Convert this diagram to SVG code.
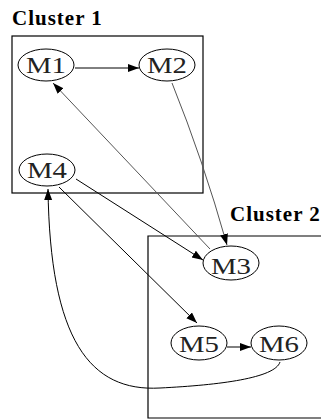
<svg xmlns="http://www.w3.org/2000/svg" width="321" height="420" viewBox="0 0 321 420">
<style>
.cl{fill:none;stroke:#000;stroke-width:1.2}
.ct{font-family:"Liberation Serif","Times New Roman",serif;font-weight:bold;font-size:21px;letter-spacing:1px;fill:#000}
.nd{fill:#fff;stroke:#000;stroke-width:1}
.nt{font-family:"Liberation Serif","Times New Roman",serif;font-size:24px;fill:#222;text-anchor:middle}
.e{fill:none;stroke:#000;stroke-width:1}
.g{stroke:#555}
</style>
<defs>
<marker id="ah" markerUnits="userSpaceOnUse" markerWidth="12" markerHeight="10" refX="11" refY="4" orient="auto">
<path d="M0,0 L11,4 L0,8 Z" fill="#000"/>
</marker>
</defs>
<rect x="0" y="0" width="321" height="420" fill="#fff"/>
<g id="cluster1">
<rect class="cl" x="12" y="36" width="191" height="157"/>
<text class="ct" x="12" y="25">Cluster 1</text>
</g>
<g id="cluster2">
<path class="cl" d="M321,236 L148,236 L148,418 L321,418"/>
<text class="ct" x="230" y="221">Cluster 2</text>
</g>
<g id="edges">
<path class="e" d="M75,68 L139,68" marker-end="url(#ah)"/>
<path class="e g" d="M172,83 Q203,160 227,245" marker-end="url(#ah)"/>
<path class="e g" d="M210,249 L53,83" marker-end="url(#ah)"/>
<path class="e" d="M76,179 L203,260" marker-end="url(#ah)"/>
<path class="e" d="M59,187 L197,323" marker-end="url(#ah)"/>
<path class="e" d="M227,347 L251,347" marker-end="url(#ah)"/>
<path class="e" d="M280,362 C275,378 220,385 160,388 C90,392 50,340 48,189" marker-end="url(#ah)"/>
</g>
<g id="M1"><ellipse class="nd" cx="46" cy="65" rx="28" ry="16"/><text class="nt" x="46" y="73" textLength="40" lengthAdjust="spacingAndGlyphs">M1</text></g>
<g id="M2"><ellipse class="nd" cx="167" cy="65" rx="28" ry="16"/><text class="nt" x="167" y="73" textLength="40" lengthAdjust="spacingAndGlyphs">M2</text></g>
<g id="M4"><ellipse class="nd" cx="47" cy="170" rx="28" ry="16"/><text class="nt" x="47" y="178" textLength="40" lengthAdjust="spacingAndGlyphs">M4</text></g>
<g id="M3"><ellipse class="nd" cx="231" cy="263" rx="28" ry="17"/><text class="nt" x="231" y="274" textLength="40" lengthAdjust="spacingAndGlyphs">M3</text></g>
<g id="M5"><ellipse class="nd" cx="199" cy="343" rx="28" ry="17"/><text class="nt" x="199" y="352" textLength="40" lengthAdjust="spacingAndGlyphs">M5</text></g>
<g id="M6"><ellipse class="nd" cx="279" cy="343" rx="28" ry="17"/><text class="nt" x="279" y="352" textLength="40" lengthAdjust="spacingAndGlyphs">M6</text></g>
</svg>
